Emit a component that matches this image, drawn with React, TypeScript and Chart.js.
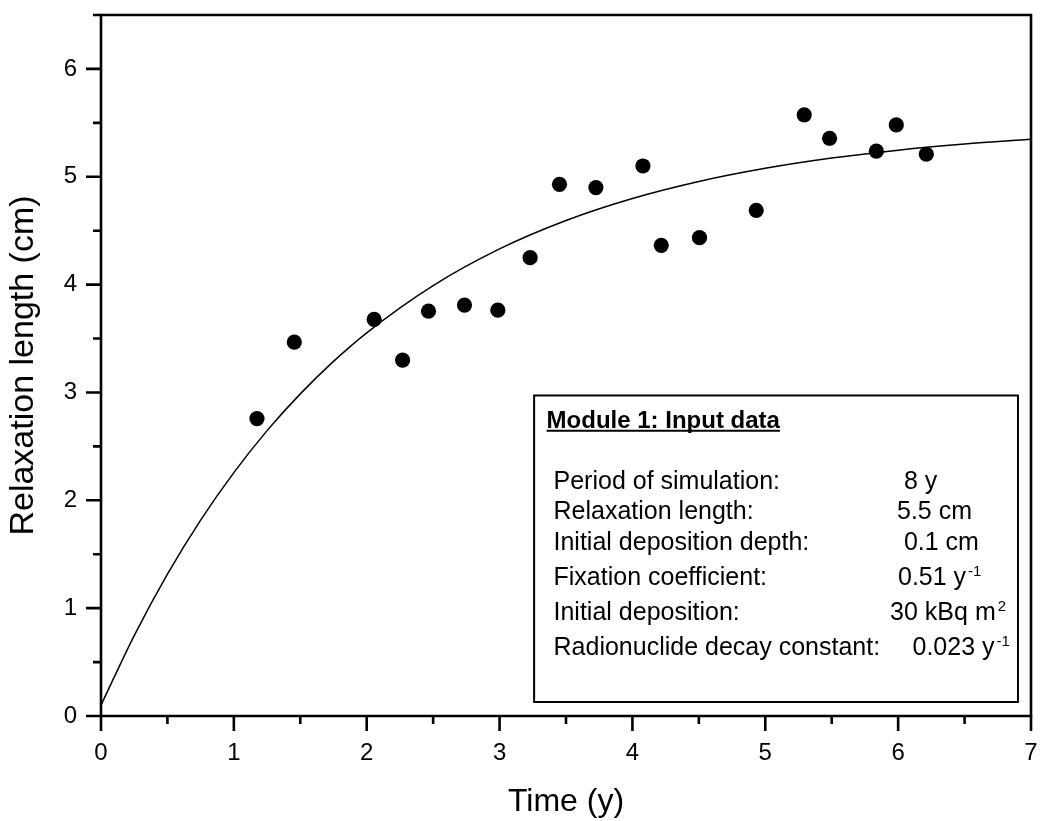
import { useEffect, useRef } from 'react';
import { Chart, registerables } from 'chart.js';

Chart.register(...registerables);

// Observed relaxation lengths (dots)
const timeObserved = [1.174, 1.455, 2.056, 2.27, 2.465, 2.736, 2.987, 3.23, 3.451, 3.725, 4.079, 4.217, 4.505, 4.932, 5.293, 5.484, 5.836, 5.986, 6.212];
const lengthObserved = [2.758, 3.467, 3.677, 3.3, 3.754, 3.81, 3.763, 4.25, 4.93, 4.9, 5.1, 4.364, 4.435, 4.689, 5.574, 5.357, 5.237, 5.481, 5.209];

// Model curve (solid line)
const timeModel = [0, 0.25, 0.5, 0.75, 1, 1.25, 1.5, 1.75, 2, 2.5, 3, 3.5, 4, 4.5, 5, 5.5, 6, 6.5, 7];
const lengthModel = [0.1, 0.746, 1.316, 1.817, 2.257, 2.646, 2.987, 3.288, 3.553, 3.991, 4.331, 4.594, 4.798, 4.956, 5.078, 5.173, 5.247, 5.304, 5.348];

// Axes
const xMajorTicks = [0, 1, 2, 3, 4, 5, 6, 7];
const xMinorTicks = [0.5, 1.5, 2.5, 3.5, 4.5, 5.5, 6.5];
const yMajorTicks = [0, 1, 2, 3, 4, 5, 6];
const yMinorTicks = [0.5, 1.5, 2.5, 3.5, 4.5, 5.5, 6.5];
const xAxisTitle = 'Time (y)';
const yAxisTitle = 'Relaxation length (cm)';

// Input-data box
const inputTitle = 'Module 1: Input data';
const inputLabels = ['Period of simulation:', 'Relaxation length:', 'Initial deposition depth:', 'Fixation coefficient:', 'Initial deposition:', 'Radionuclide decay constant:'];
const inputValues = ['8 y', '5.5 cm', '0.1 cm', '0.51 y', '30 kBq m', '0.023 y'];
const inputSuperscripts = ['', '', '', '-1', '2', '-1'];

const FONT = '"Liberation Sans", Arial, Helvetica, sans-serif';

const framePlugin = {
  id: 'frameAndBox',
  afterDraw(chart: any) {
    const { ctx, chartArea: a, scales } = chart;
    const xs = scales.x;
    const ys = scales.y;
    ctx.save();
    ctx.strokeStyle = '#000';
    ctx.lineCap = 'butt';

    // frame
    ctx.lineWidth = 2.6;
    ctx.beginPath();
    ctx.moveTo(a.left, a.bottom);
    ctx.lineTo(a.right, a.bottom);
    ctx.lineTo(a.right, a.top);
    ctx.lineTo(a.left, a.top);
    ctx.closePath();
    ctx.stroke();

    // ticks
    ctx.lineWidth = 2.6;
    ctx.beginPath();
    xMajorTicks.forEach((v) => {
      const px = xs.getPixelForValue(v);
      ctx.moveTo(px, a.bottom);
      ctx.lineTo(px, a.bottom + 15);
    });
    xMinorTicks.forEach((v) => {
      const px = xs.getPixelForValue(v);
      ctx.moveTo(px, a.bottom);
      ctx.lineTo(px, a.bottom + 8);
    });
    yMajorTicks.forEach((v) => {
      const py = ys.getPixelForValue(v);
      ctx.moveTo(a.left, py);
      ctx.lineTo(a.left - 15, py);
    });
    yMinorTicks.forEach((v) => {
      const py = ys.getPixelForValue(v);
      ctx.moveTo(a.left, py);
      ctx.lineTo(a.left - 8, py);
    });
    ctx.stroke();

    // input data box
    const bx0 = xs.getPixelForValue(3.26);
    const bx1 = xs.getPixelForValue(6.902);
    const by0 = ys.getPixelForValue(2.972);
    const by1 = ys.getPixelForValue(0.13);
    ctx.fillStyle = '#fff';
    ctx.fillRect(bx0, by0, bx1 - bx0, by1 - by0);
    ctx.lineWidth = 2;
    ctx.strokeRect(bx0, by0, bx1 - bx0, by1 - by0);

    ctx.fillStyle = '#000';
    ctx.textBaseline = 'alphabetic';
    ctx.textAlign = 'left';
    ctx.font = `bold 24px ${FONT}`;
    const tx = bx0 + 12.5;
    const ty = by0 + 32.3;
    ctx.fillText(inputTitle, tx, ty);
    const tw = ctx.measureText(inputTitle).width;
    ctx.lineWidth = 2;
    ctx.beginPath();
    ctx.moveTo(tx, ty + 3);
    ctx.lineTo(tx + tw, ty + 3);
    ctx.stroke();

    const rowOffsets = [94, 123.3, 154.7, 189.7, 225, 260];
    const valueOffsets = [369.8, 362.9, 369.8, 363.9, 356, 378.4];
    inputLabels.forEach((label, i) => {
      const y = by0 + rowOffsets[i];
      ctx.font = `25px ${FONT}`;
      ctx.fillText(label, bx0 + 19.4, y);
      const vx = bx0 + valueOffsets[i];
      ctx.fillText(inputValues[i], vx, y);
      if (inputSuperscripts[i]) {
        const w = ctx.measureText(inputValues[i]).width;
        ctx.font = `15px ${FONT}`;
        ctx.fillText(inputSuperscripts[i], vx + w + 2, y - 9);
      }
    });
    ctx.restore();
  },
};

export default function App() {
  const canvasRef = useRef<HTMLCanvasElement | null>(null);

  useEffect(() => {
    document.body.style.margin = '0';
    const canvas = canvasRef.current;
    if (!canvas) return;
    const chart = new Chart(canvas, {
      type: 'scatter',
      data: {
        datasets: [
          {
            label: 'Observed',
            data: timeObserved.map((t, i) => ({ x: t, y: lengthObserved[i] })),
            pointRadius: 7.6,
            pointBackgroundColor: '#000',
            pointBorderWidth: 0,
            showLine: false,
          },
          {
            label: 'Model',
            data: timeModel.map((t, i) => ({ x: t, y: lengthModel[i] })),
            showLine: true,
            pointRadius: 0,
            borderColor: '#000',
            borderWidth: 1.5,
            cubicInterpolationMode: 'monotone',
          } as any,
        ],
      },
      options: {
        animation: false,
        responsive: false,
        devicePixelRatio: 1,
        layout: { padding: { left: 0, right: 9, top: 15, bottom: 0 } },
        plugins: { legend: { display: false }, tooltip: { enabled: false } },
        scales: {
          x: {
            type: 'linear',
            min: 0,
            max: 7,
            grid: { display: false, drawTicks: false },
            border: { display: false },
            ticks: {
              stepSize: 1,
              padding: 23,
              color: '#000',
              font: { family: FONT, size: 24 },
              callback: (v: any) => (xMajorTicks.includes(Number(v)) ? String(v) : ''),
            },
            title: {
              display: true,
              text: xAxisTitle,
              color: '#000',
              font: { family: FONT, size: 32 },
              padding: { top: 0, bottom: 0 },
            },
            afterFit: (s: any) => {
              s.height = 105;
              s.paddingLeft = 0;
              s.paddingRight = 0;
              s.paddingTop = 0;
              s.paddingBottom = 0;
            },
          },
          y: {
            type: 'linear',
            min: 0,
            max: 6.5,
            grid: { display: false, drawTicks: false },
            border: { display: false },
            ticks: {
              stepSize: 1,
              includeBounds: false,
              padding: 24,
              color: '#000',
              font: { family: FONT, size: 24 },
              callback: (v: any) => (yMajorTicks.includes(Number(v)) ? String(v) : ''),
            },
            title: {
              display: true,
              text: yAxisTitle,
              color: '#000',
              font: { family: FONT, size: 34 },
              padding: { top: 3, bottom: 0 },
            },
            afterFit: (s: any) => {
              s.width = 101;
              s.paddingLeft = 0;
              s.paddingRight = 0;
              s.paddingTop = 0;
              s.paddingBottom = 0;
            },
          },
        },
      },
      plugins: [framePlugin],
    });
    return () => chart.destroy();
  }, []);

  return (
    <div style={{ width: 1040, height: 821 }}>
      <canvas ref={canvasRef} width={1040} height={821} style={{ display: 'block' }} />
    </div>
  );
}
